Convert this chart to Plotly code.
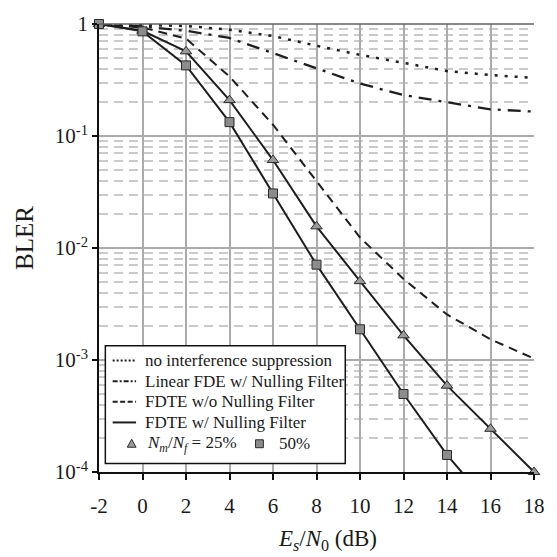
import plotly.graph_objects as go

# Es/N0 grid (dB)
snr_db = [-2, 0, 2, 4, 6, 8, 10, 12, 14, 16, 18]

# BLER curves
bler_no_supp = [1.0, 0.98, 0.96, 0.89, 0.78, 0.64, 0.53, 0.45, 0.38, 0.35, 0.33]
bler_linear_fde = [1.0, 0.95, 0.87, 0.75, 0.55, 0.40, 0.294, 0.232, 0.20, 0.173, 0.165]
bler_fdte_wo = [1.0, 0.93, 0.74, 0.34, 0.126, 0.0398, 0.0124, 0.0053, 0.00255, 0.00153, 0.00103]
bler_fdte_25 = [1.0, 0.87, 0.57, 0.209, 0.061, 0.0156, 0.00506, 0.00166, 0.00059, 0.000243, 0.0001]
snr_db_50 = [-2, 0, 2, 4, 6, 8, 10, 12, 14, 16]
bler_fdte_50 = [1.0, 0.86, 0.427, 0.133, 0.0307, 0.0071, 0.00188, 0.000497, 0.000142, 0.00005]

legend_labels = ["no interference suppression", "Linear FDE w/ Nulling Filter",
                 "FDTE w/o Nulling Filter", "FDTE w/ Nulling Filter"]
marker_labels = ["<i>N</i><sub><i>m</i></sub>/<i>N</i><sub><i>f</i></sub> = 25%", "50%"]

x_tick_vals = [-2, 0, 2, 4, 6, 8, 10, 12, 14, 16, 18]
x_tick_text = ["-2", "0", "2", "4", "6", "8", "10", "12", "14", "16", "18"]
y_tick_vals = [1, 1e-1, 1e-2, 1e-3, 1e-4]
y_tick_text = ["1", "10<sup>-1</sup>", "10<sup>-2</sup>", "10<sup>-3</sup>", "10<sup>-4</sup>"]
y_minor_vals = [k * 10.0 ** e for e in range(-4, 0) for k in range(2, 10)]

SERIF = "Liberation Serif"
INK = "#1e1e1e"
Y_MIN = 1e-4
TRI_FILL = "#9a9a9a"
SQ_FILL = "#8c8c8c"
EDGE = "#2a2a2a"

# figure geometry (pixels) used to place the hand-built legend
W, H = 557, 557
ML, MR, MT, MB = 99, 12, 20, 85
PW, PH = W - ML - MR, H - MT - MB


def px(x):
    return (x - ML) / PW


def py(y):
    return (H - MB - y) / PH


fig = go.Figure()


def line_trace(x, y, dash, width=2.0):
    return go.Scatter(x=x, y=y, mode="lines", showlegend=False, hoverinfo="skip",
                      line=dict(color=INK, width=width, dash=dash))


def marker_trace(x, y, symbol, size, fill):
    pts = [(a, b) for a, b in zip(x, y) if b >= Y_MIN * 0.999]
    return go.Scatter(x=[p[0] for p in pts], y=[p[1] for p in pts], mode="markers",
                      showlegend=False, hoverinfo="skip", cliponaxis=False,
                      marker=dict(symbol=symbol, size=size, color=fill,
                                  line=dict(color=EDGE, width=1)))


DOT = "3px,7px"
DASHDOT = "13px,7px,3px,7px"
DASH = "9px,6px"

fig.add_trace(line_trace(snr_db, bler_no_supp, DOT, 2.5))
fig.add_trace(line_trace(snr_db, bler_linear_fde, DASHDOT, 2.3))
fig.add_trace(line_trace(snr_db, bler_fdte_wo, DASH, 2.0))
fig.add_trace(line_trace(snr_db, bler_fdte_25, "solid", 2.0))
fig.add_trace(line_trace(snr_db_50, bler_fdte_50, "solid", 2.0))
fig.add_trace(marker_trace(snr_db, bler_fdte_25, "triangle-up", 10, TRI_FILL))
fig.add_trace(marker_trace(snr_db_50, bler_fdte_50, "square", 9, SQ_FILL))

# ---- legend box, drawn by hand ----
shapes = [
    dict(type="rect", xref="paper", yref="paper", x0=px(105.5), x1=px(351.5),
         y0=py(463.5), y1=py(344.5), line=dict(color="#111111", width=1.5),
         fillcolor="white", layer="above"),
    dict(type="line", xref="paper", yref="paper", x0=0, x1=1, y0=1, y1=1,
         line=dict(color="#606060", width=1.5), layer="above"),
]
annotations = []

row_y = [359.5, 380.5, 401.0, 422.0]
sample_dash = ["2px,2px", "5px,2px,2px,2px", "5px,2.5px", "solid"]
for label, dash, yy in zip(legend_labels, sample_dash, row_y):
    shapes.append(dict(type="line", xref="paper", yref="paper", x0=px(113), x1=px(137),
                       y0=py(yy), y1=py(yy), line=dict(color=INK, width=2, dash=dash),
                       layer="above"))
    annotations.append(dict(text=label, xref="paper", yref="paper", x=px(144), y=py(yy),
                            xanchor="left", yanchor="middle", showarrow=False,
                            font=dict(family=SERIF, size=17, color="#1a1a1a")))

# marker row
my = 443.5
tx, ty = 132.5, my
shapes.append(dict(type="path", xref="paper", yref="paper",
                   path=f"M{px(tx - 4.5)},{py(ty + 3.5)} L{px(tx + 4.5)},{py(ty + 3.5)} "
                        f"L{px(tx)},{py(ty - 4.5)} Z",
                   fillcolor=TRI_FILL, line=dict(color=EDGE, width=1), layer="above"))
sx, sy = 263.5, my
shapes.append(dict(type="rect", xref="paper", yref="paper",
                   x0=px(sx - 4), x1=px(sx + 4), y0=py(sy + 4), y1=py(sy - 4),
                   fillcolor=SQ_FILL, line=dict(color=EDGE, width=1), layer="above"))
annotations.append(dict(text=marker_labels[0], xref="paper", yref="paper", x=px(146),
                        y=py(my), xanchor="left", yanchor="middle", showarrow=False,
                        font=dict(family=SERIF, size=17, color="#1a1a1a")))
annotations.append(dict(text=marker_labels[1], xref="paper", yref="paper", x=px(281),
                        y=py(my), xanchor="left", yanchor="middle", showarrow=False,
                        font=dict(family=SERIF, size=17, color="#1a1a1a")))

# axis titles
annotations.append(dict(text="BLER", xref="paper", yref="paper", x=px(22), y=py(236),
                        textangle=-90, showarrow=False, font=dict(family=SERIF, size=25),
                        xanchor="center", yanchor="middle"))
annotations.append(dict(text="<i>E</i><sub><i>s</i></sub>/<i>N</i><sub>0</sub> (dB)",
                        xref="paper", yref="paper", x=px(333), y=py(541), showarrow=False,
                        font=dict(family=SERIF, size=23), xanchor="center", yanchor="middle"))

fig.update_layout(
    width=W, height=H,
    margin=dict(l=ML, r=MR, t=MT, b=MB),
    paper_bgcolor="white", plot_bgcolor="white", showlegend=False,
    font=dict(family=SERIF, color="#1a1a1a", size=21),
    xaxis=dict(range=[-2, 18], tickvals=x_tick_vals, ticktext=x_tick_text,
               showgrid=True, gridcolor="#ababab", gridwidth=1.5, zeroline=False,
               showline=True, linecolor="#111111", linewidth=1.5,
               ticks="outside", ticklen=6, tickwidth=1.5, tickcolor="#111111",
               ticklabelstandoff=8, tickfont=dict(size=21)),
    yaxis=dict(type="log", range=[-4, 0], tickvals=y_tick_vals, ticktext=y_tick_text,
               showgrid=True, gridcolor="#ababab", gridwidth=1.5, zeroline=False,
               showline=True, linecolor="#111111", linewidth=1.5,
               ticks="outside", ticklen=5, tickwidth=1.5, tickcolor="#111111",
               tickfont=dict(size=21),
               minor=dict(tickvals=y_minor_vals, ticks="", showgrid=True,
                          gridcolor="#cacaca", gridwidth=1.5, griddash="9px,6px")),
    shapes=shapes,
    annotations=annotations,
)

fig.write_html("out.html")
